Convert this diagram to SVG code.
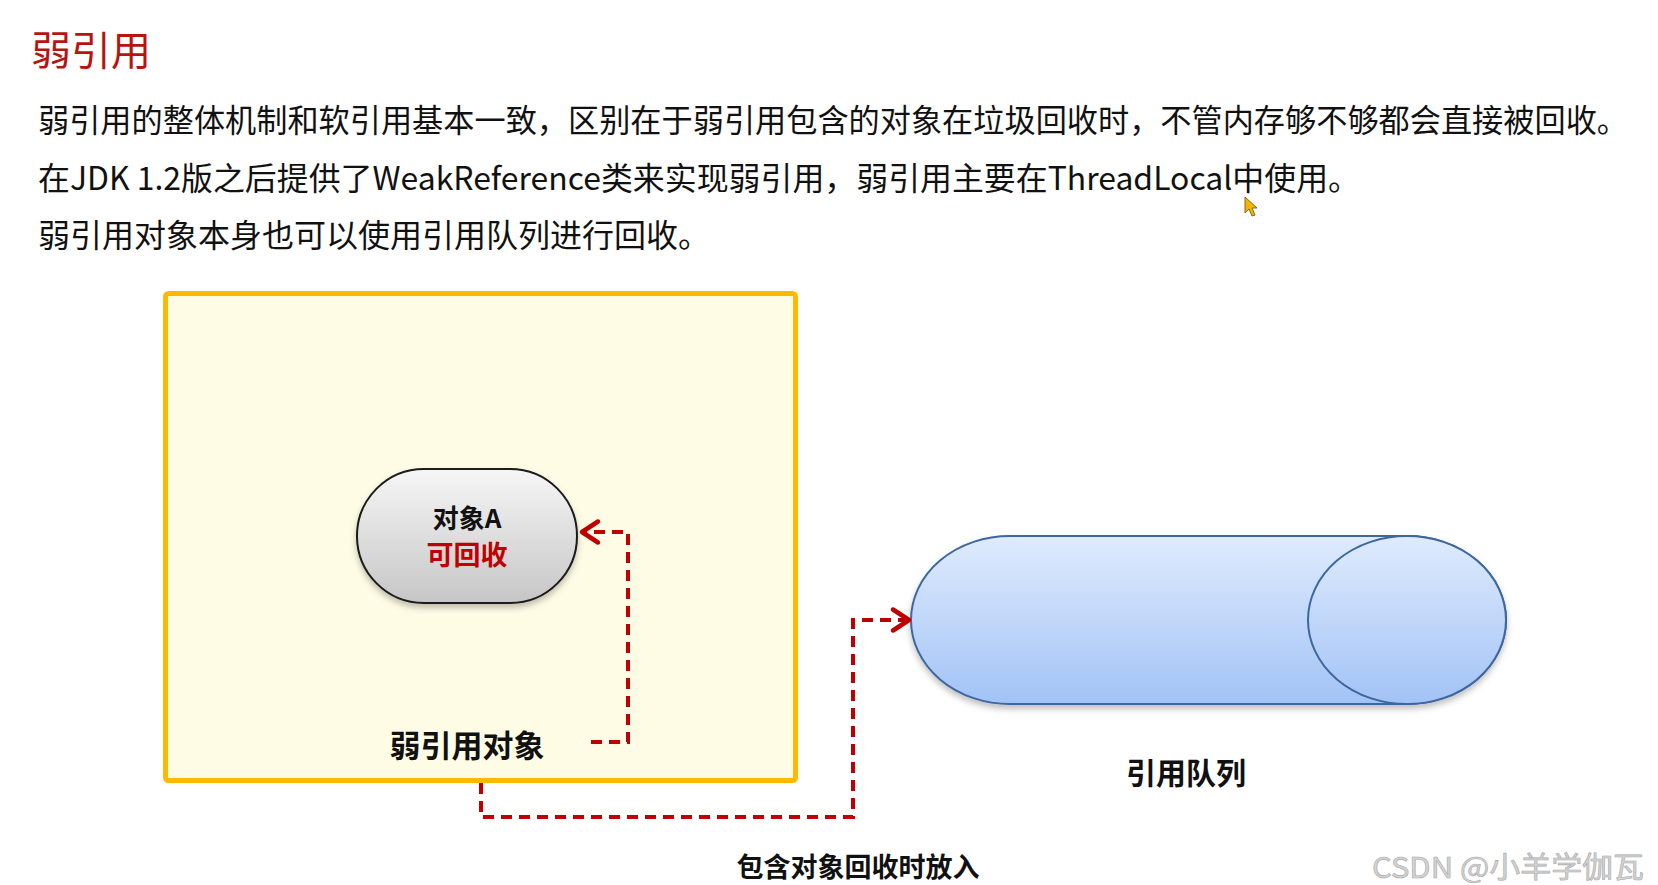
<svg xmlns="http://www.w3.org/2000/svg" width="1658" height="885" viewBox="0 0 1658 885">
  <style>
    .cjk { font-family: "Noto Sans CJK SC", "Noto Sans", sans-serif; }
    .body { font-size: 32px; fill: #111111; }
    .bold { font-weight: bold; fill: #111111; }
    .conn { fill: none; stroke: #C00000; stroke-width: 4; stroke-dasharray: 11 7; stroke-linejoin: miter; }
  </style>
  <defs>
    <linearGradient id="gGray" x1="0" y1="0" x2="0" y2="1">
      <stop offset="0" stop-color="#F6F6F6"/>
      <stop offset="1" stop-color="#C6C6C6"/>
    </linearGradient>
    <linearGradient id="gBlue" x1="0" y1="0" x2="0" y2="1">
      <stop offset="0" stop-color="#DFEBFD"/>
      <stop offset="1" stop-color="#A2C3F6"/>
    </linearGradient>
    <filter id="shadow" x="-10%" y="-20%" width="120%" height="150%">
      <feDropShadow dx="0" dy="4" stdDeviation="3" flood-color="#000000" flood-opacity="0.25"/>
    </filter>
    <marker id="chev" markerUnits="userSpaceOnUse" viewBox="0 0 28 28" markerWidth="28" markerHeight="28" refX="23" refY="14" orient="auto">
      <path d="M6 3.5 L22 14 L6 24.5" fill="none" stroke="#C00000" stroke-width="4.5" stroke-linejoin="round" stroke-linecap="round" stroke-dasharray="none"/>
    </marker>
  </defs>

  <rect x="0" y="0" width="1658" height="885" fill="#FFFFFF"/>

  <g id="heading">
    <text class="cjk" x="31" y="65" font-size="40" fill="#B8140F">弱引用</text>
  </g>

  <g id="description" class="cjk body">
    <text x="38" y="132" font-size="31.5" textLength="1590" lengthAdjust="spacingAndGlyphs">弱引用的整体机制和软引用基本一致，区别在于弱引用包含的对象在垃圾回收时，不管内存够不够都会直接被回收。</text>
    <text x="38" y="190" textLength="1322" lengthAdjust="spacingAndGlyphs">在JDK 1.2版之后提供了WeakReference类来实现弱引用，弱引用主要在ThreadLocal中使用。</text>
    <text x="38" y="247">弱引用对象本身也可以使用引用队列进行回收。</text>
  </g>

  <g id="cursor">
    <polygon points="1245,197 1245,213 1249,209 1252,216 1255,215 1252,208 1257,208" fill="#F5B400" stroke="#6B4E00" stroke-width="0.8"/>
  </g>

  <g id="node-weakref">
    <rect x="165.5" y="293.5" width="630" height="487" rx="3" fill="#FFFCE6" stroke="#FFBA00" stroke-width="5"/>
    <text class="cjk bold" x="467" y="757" font-size="31" text-anchor="middle">弱引用对象</text>
  </g>

  <g id="node-objectA">
    <rect x="357" y="469" width="220" height="134" rx="67" ry="67" fill="url(#gGray)" stroke="#1A1A1A" stroke-width="2" filter="url(#shadow)"/>
    <text class="cjk bold" x="467" y="528" font-size="26" text-anchor="middle">对象A</text>
    <text class="cjk" x="467" y="565" font-size="27" font-weight="bold" fill="#C00000" text-anchor="middle">可回收</text>
  </g>

  <g id="node-queue">
    <g filter="url(#shadow)">
      <path d="M1010 536 L1407 536 A99 84 0 0 1 1407 704 L1010 704 A99 84 0 0 1 1010 536 Z" fill="url(#gBlue)" stroke="#3D679F" stroke-width="2"/>
    </g>
    <ellipse cx="1407" cy="620" rx="99" ry="84" fill="url(#gBlue)" stroke="#3D679F" stroke-width="2"/>
    <text class="cjk bold" x="1186" y="784" font-size="30" text-anchor="middle">引用队列</text>
  </g>

  <g id="connectors">
    <path class="conn" d="M591 742 L628 742 L628 532 L581 532" marker-end="url(#chev)"/>
    <path class="conn" d="M481 783 L481 817 L853 817 L853 620 L910 620" marker-end="url(#chev)"/>
  </g>

  <g id="label-put">
    <text class="cjk bold" x="858" y="877" font-size="27" text-anchor="middle">包含对象回收时放入</text>
  </g>

  <g id="watermark">
    <text class="cjk" x="1372" y="878" font-size="29" textLength="272" lengthAdjust="spacingAndGlyphs" fill="#D4D4D4" stroke="#A8A8A8" stroke-width="0.6">CSDN @小羊学伽瓦</text>
  </g>
</svg>
